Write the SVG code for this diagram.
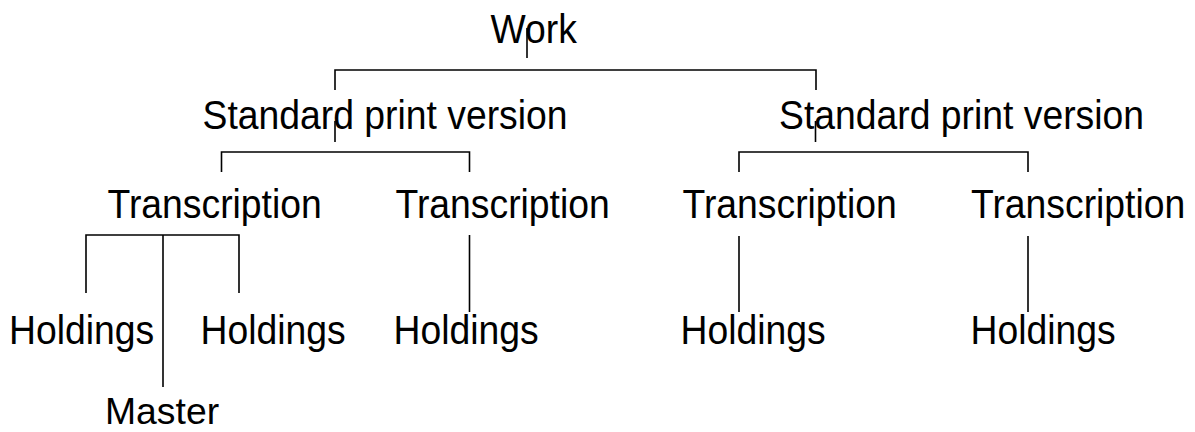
<svg xmlns="http://www.w3.org/2000/svg" width="1195" height="432" viewBox="0 0 1195 432">
<style>
text{font-family:"Liberation Sans",Arial,sans-serif;font-size:37.33px;fill:#000}
.c path{fill:none;stroke:#000;stroke-width:1.6}
</style>
<rect width="1195" height="432" fill="#fff"/>
<g class="c" id="connectors">
<path d="M527 28V58"/>
<path d="M335 90V70H816V90"/>
<path d="M335 121V142"/>
<path d="M815.5 121V142"/>
<path d="M221.5 172V152H469.5V172"/>
<path d="M739 172V152H1028V172"/>
<path d="M86 293V235H239V293"/>
<path d="M163 235V387"/>
<path d="M469.5 235V312"/>
<path d="M739 236V312"/>
<path d="M1028 236V312"/>
</g>
<g id="work"><text transform="translate(490.5 43) scale(1 1.07)">Work</text></g>
<g id="spv1"><text transform="translate(202.5 129) scale(1 1.07)">Standard print version</text></g>
<g id="spv2"><text transform="translate(779 129) scale(1 1.07)">Standard print version</text></g>
<g id="tr1"><text transform="translate(107.5 218) scale(1 1.07)">Transcription</text></g>
<g id="tr2"><text transform="translate(395.5 218) scale(1 1.07)">Transcription</text></g>
<g id="tr3"><text transform="translate(682.5 218) scale(1 1.07)">Transcription</text></g>
<g id="tr4"><text transform="translate(971 218) scale(1 1.07)">Transcription</text></g>
<g id="h1"><text transform="translate(9 344) scale(1 1.07)">Holdings</text></g>
<g id="h2"><text transform="translate(200.5 344) scale(1 1.07)">Holdings</text></g>
<g id="h3"><text transform="translate(393.5 344) scale(1 1.07)">Holdings</text></g>
<g id="h4"><text transform="translate(680.5 344) scale(1 1.07)">Holdings</text></g>
<g id="h5"><text transform="translate(970.5 344) scale(1 1.07)">Holdings</text></g>
<g id="master"><text x="105" y="424">Master</text></g>
</svg>
